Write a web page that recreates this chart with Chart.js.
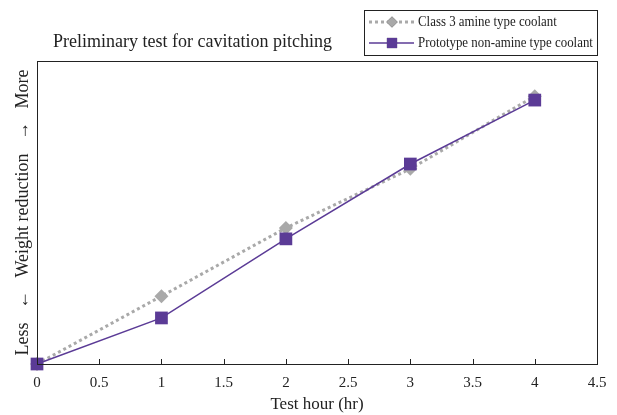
<!DOCTYPE html>
<html lang="en">
<head>
  <meta charset="UTF-8" />
  <title>Cavitation pitching test</title>
  <script src="https://cdn.jsdelivr.net/npm/chart.js"></script>
  <style>
    html, body { margin: 0; padding: 0; background: #fff; }
    #wrap { width: 617px; height: 415px; position: relative; }
  </style>
</head>
<body>
<div id="wrap"><canvas id="chart" width="617" height="415"></canvas></div>

<script>
  // data (y is relative weight reduction, 0-100)
  const hours = [0, 1, 2, 3, 4];
  const amineValues = [0, 22.4, 44.9, 64.4, 88.4];
  const prototypeValues = [0, 15.2, 41.3, 66.0, 87.1];
  const xTicks = [0, 0.5, 1, 1.5, 2, 2.5, 3, 3.5, 4, 4.5];
  const seriesNames = ["Class 3 amine type coolant", "Prototype non-amine type coolant"];
  const chartTitle = "Preliminary test for cavitation pitching";

  const serif = "'Liberation Serif', 'DejaVu Serif', serif";
  const ink = "#222";
  const gray = "#a9a9a9";
  const purple = "#5b3b96";

  // frame, inside ticks, title and boxed legend
  const decor = {
    id: "decor",
    afterDraw(chart) {
      const { ctx, chartArea: a, scales: { x } } = chart;
      ctx.save();
      ctx.strokeStyle = ink;
      ctx.lineWidth = 1;
      ctx.strokeRect(a.left + 0.5, a.top + 0.5, a.right - a.left, a.bottom - a.top);
      ctx.beginPath();
      xTicks.forEach(t => {
        const px = Math.round(x.getPixelForValue(t)) + 0.5;
        ctx.moveTo(px, a.bottom);
        ctx.lineTo(px, a.bottom - 5);
      });
      ctx.stroke();

      // title
      ctx.fillStyle = ink;
      ctx.font = "18px " + serif;
      ctx.textBaseline = "middle";
      ctx.textAlign = "left";
      ctx.fillText(chartTitle, 53, 42);

      // legend box (text slightly condensed like the original face)
      ctx.strokeRect(364.5, 10.5, 233, 45);
      ctx.font = "14px " + serif;
      const rows = [22, 43];
      chart.data.datasets.forEach((ds, i) => {
        const y = rows[i];
        ctx.save();
        ctx.strokeStyle = ds.borderColor;
        ctx.lineWidth = ds.borderWidth;
        ctx.setLineDash(ds.borderDash || []);
        ctx.beginPath();
        ctx.moveTo(369, y);
        ctx.lineTo(414, y);
        ctx.stroke();
        ctx.restore();
        Chart.helpers.drawPoint(ctx, {
          pointStyle: ds.pointStyle, radius: ds.pointRadius * 0.8,
          borderWidth: 0, rotation: 0
        }, 392, y);
        ctx.fillStyle = ds.pointBackgroundColor;
        ctx.fill();
        ctx.fillStyle = ink;
        ctx.fillText(ds.label, 418, y, ctx.measureText(ds.label).width * 0.92);
      });
      ctx.restore();
    }
  };

  new Chart(document.getElementById("chart"), {
    type: "line",
    data: {
      datasets: [
        {
          label: seriesNames[0],
          data: hours.map((h, i) => ({ x: h, y: amineValues[i] })),
          borderColor: gray,
          borderWidth: 3,
          borderDash: [3, 3],
          pointStyle: "rectRot",
          pointRadius: 7,
          pointBackgroundColor: gray,
          pointBorderWidth: 0,
          clip: false,
          order: 1
        },
        {
          label: seriesNames[1],
          data: hours.map((h, i) => ({ x: h, y: prototypeValues[i] })),
          borderColor: purple,
          borderWidth: 1.5,
          pointStyle: "rect",
          pointRadius: 9,
          pointBackgroundColor: purple,
          pointBorderWidth: 0,
          clip: false,
          order: 0
        }
      ]
    },
    options: {
      responsive: false,
      animation: false,
      layout: { padding: { top: 61, right: 20, left: 0, bottom: 0 } },
      plugins: {
        legend: { display: false },
        title: { display: false },
        tooltip: { enabled: false }
      },
      scales: {
        x: {
          type: "linear",
          min: 0,
          max: 4.5,
          afterFit: s => { s.height = 51; },
          afterBuildTicks: s => { s.ticks = xTicks.map(v => ({ value: v })); },
          grid: { display: false, drawTicks: false },
          border: { display: false },
          ticks: {
            color: ink,
            font: { family: serif, size: 15 },
            padding: 10,
            maxRotation: 0,
            callback: v => String(v)
          },
          title: {
            display: true,
            text: "Test hour (hr)",
            color: ink,
            font: { family: serif, size: 17 },
            padding: { top: 0, bottom: 0 }
          }
        },
        y: {
          min: 0,
          max: 100,
          afterFit: s => { s.width = 37; },
          grid: { display: false, drawTicks: false },
          border: { display: false },
          ticks: { display: false },
          title: {
            display: true,
            text: "Less   \u2190   Weight reduction   \u2192   More",
            color: ink,
            font: { family: serif, size: 18 },
            padding: { top: 12, bottom: 0 }
          }
        }
      }
    },
    plugins: [decor]
  });
</script>
</body>
</html>
